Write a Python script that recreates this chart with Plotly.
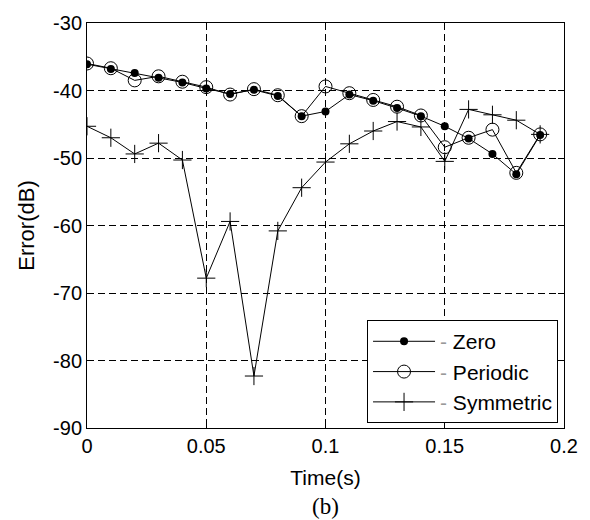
import plotly.graph_objects as go

time_s = [0.00, 0.01, 0.02, 0.03, 0.04, 0.05, 0.06, 0.07, 0.08, 0.09,
          0.10, 0.11, 0.12, 0.13, 0.14, 0.15, 0.16, 0.17, 0.18, 0.19]
zero_db = [-36.1, -36.8, -37.4, -38.1, -38.8, -39.7, -40.5, -39.9, -40.8, -43.8,
           -43.1, -40.6, -41.5, -42.6, -43.8, -45.3, -47.1, -49.4, -52.4, -46.6]
periodic_db = [-36.0, -36.7, -38.5, -37.9, -38.7, -39.5, -40.6, -39.8, -40.7, -43.8,
               -39.4, -40.4, -41.4, -42.4, -43.7, -48.4, -47.0, -45.8, -52.2, -46.5]
symmetric_db = [-45.3, -47.0, -49.4, -47.8, -50.3, -67.8, -59.4, -82.3, -60.8, -54.4,
                -50.6, -47.9, -46.0, -44.6, -45.4, -50.5, -42.8, -43.6, -44.4, -46.5]

x_ticks = [0, 0.05, 0.1, 0.15, 0.2]
x_tick_labels = ["0", "0.05", "0.1", "0.15", "0.2"]
y_ticks = [-90, -80, -70, -60, -50, -40, -30]
y_tick_labels = ["-90", "-80", "-70", "-60", "-50", "-40", "-30"]

FONT = "Liberation Sans, Arial, sans-serif"
SERIF = "Liberation Serif, Times New Roman, serif"
dash = "<span style='color:#999'>-</span> "

fig = go.Figure()
fig.add_trace(go.Scatter(
    x=time_s, y=symmetric_db, mode="lines+markers", name=dash + "Symmetric",
    line=dict(color="black", width=1),
    marker=dict(symbol="cross-thin", size=13, line=dict(color="black", width=1)),
    legendrank=3,
))
fig.add_trace(go.Scatter(
    x=time_s, y=periodic_db, mode="lines+markers", name=dash + "Periodic",
    line=dict(color="black", width=1),
    marker=dict(symbol="circle-open", size=13, color="black", line=dict(width=1)),
    legendrank=2,
))
fig.add_trace(go.Scatter(
    x=time_s, y=zero_db, mode="lines+markers", name=dash + "Zero",
    line=dict(color="black", width=1),
    marker=dict(symbol="circle", size=8, color="black"),
    legendrank=1,
))

axis_common = dict(
    showline=True, linecolor="black", linewidth=1, mirror="ticks",
    ticks="inside", ticklen=6, tickcolor="black",
    showgrid=True, gridcolor="black", gridwidth=1, griddash="7px,4px",
    zeroline=False, tickfont=dict(family=FONT, size=20, color="black"),
)

fig.update_layout(
    width=590, height=520,
    margin=dict(l=87, r=23, t=23, b=92),
    paper_bgcolor="white", plot_bgcolor="white",
    font=dict(family=FONT, size=20, color="black"),
    showlegend=True,
    legend=dict(
        x=0.9875, y=0.012, xanchor="right", yanchor="bottom",
        bordercolor="black", borderwidth=1, bgcolor="white",
        font=dict(family=FONT, size=21, color="black"),
        itemwidth=62,
    ),
    xaxis=dict(range=[0, 0.2], tickvals=x_ticks, ticktext=x_tick_labels,
               title=dict(text="Time(s)", font=dict(family=FONT, size=21), standoff=14),
               **axis_common),
    yaxis=dict(range=[-90, -30], tickvals=y_ticks, ticktext=y_tick_labels,
               title=dict(text="Error(dB)", font=dict(family=FONT, size=22), standoff=12),
               **axis_common),
    annotations=[dict(text="(b)", xref="paper", yref="paper", x=0.5, y=-0.195,
                      xanchor="center", yanchor="middle", showarrow=False,
                      font=dict(family=SERIF, size=23, color="black"))],
)

fig.write_html("out.html", config={"displayModeBar": False},
               post_script="document.body.style.margin='0';")
